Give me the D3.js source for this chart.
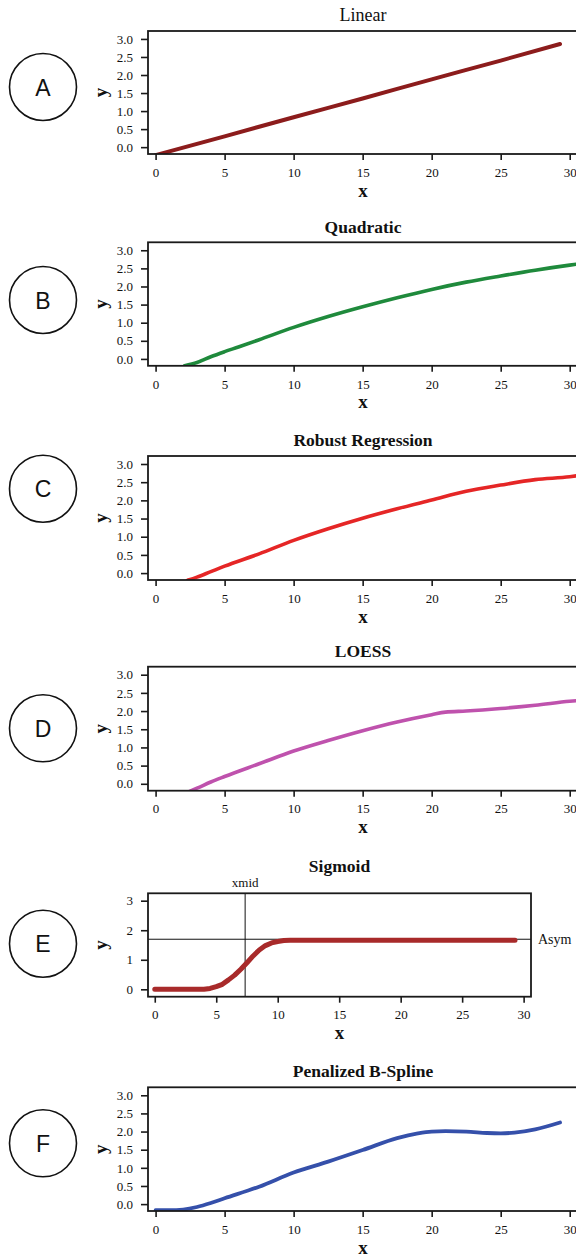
<!DOCTYPE html>
<html>
<head>
<meta charset="utf-8">
<script src="https://cdn.jsdelivr.net/npm/d3@7"></script>
<style>
  html, body { margin: 0; padding: 0; background: #fff; }
  svg { display: block; }
</style>
</head>
<body>
<svg id="chart" width="576" height="1259"></svg>
<script>
// ---------- data ----------
const xTicks = [0, 5, 10, 15, 20, 25, 30];
const yTicks = [0, 0.5, 1, 1.5, 2, 2.5, 3];
const yTicksSigmoid = [0, 1, 2, 3];

const panelTitles = ["Linear", "Quadratic", "Robust Regression", "LOESS", "Sigmoid", "Penalized B-Spline"];
const panelLetters = ["A", "B", "C", "D", "E", "F"];

const linearX = [0, 5, 10, 15, 20, 25, 29.3];
const linearY = [-0.22, 0.30, 0.83, 1.35, 1.88, 2.40, 2.86];

const quadX = [2.1, 3, 4, 5, 6, 7.5, 10, 12.5, 15, 17.5, 20, 22.5, 25, 27.5, 30, 30.6];
const quadY = [-0.19, -0.10, 0.06, 0.20, 0.33, 0.53, 0.87, 1.17, 1.44, 1.69, 1.92, 2.12, 2.29, 2.45, 2.59, 2.62];

const robustX = [2.3, 3, 4, 5, 7.5, 10, 12.5, 15, 17.5, 20, 22.5, 25, 27.5, 30, 30.6];
const robustY = [-0.20, -0.11, 0.04, 0.19, 0.53, 0.90, 1.22, 1.51, 1.77, 2.01, 2.25, 2.42, 2.57, 2.65, 2.68];

const loessX = [2.5, 3, 4, 5, 7.5, 10, 12.5, 15, 17.5, 20, 21, 22.5, 25, 27.5, 30, 30.6];
const loessY = [-0.20, -0.12, 0.05, 0.20, 0.55, 0.90, 1.19, 1.46, 1.70, 1.90, 1.97, 2.00, 2.07, 2.16, 2.27, 2.29];

const sigmoidX = [0, 4, 4.5, 5, 5.5, 6, 6.5, 7, 7.5, 8, 8.5, 9, 9.5, 10, 10.5, 11, 29.3];
const sigmoidY = [0, 0, 0.03, 0.09, 0.17, 0.32, 0.48, 0.68, 0.90, 1.13, 1.33, 1.48, 1.57, 1.62, 1.65, 1.66, 1.66];
const sigmoidXmid = 7.35;
const sigmoidAsym = 1.695;

const splineX = [0, 1, 2, 3, 4, 5, 7.5, 10, 12.5, 15, 17.5, 19, 20, 21, 22.5, 24, 25, 26, 27.5, 29.3];
const splineY = [-0.17, -0.17, -0.15, -0.08, 0.03, 0.16, 0.48, 0.87, 1.17, 1.49, 1.82, 1.95, 2.00, 2.01, 2.00, 1.96, 1.95, 1.97, 2.06, 2.25];

// ---------- layout ----------
const svg = d3.select("#chart");
const serif = "'Liberation Serif', 'Times New Roman', serif";
const sans = "'Liberation Sans', Arial, sans-serif";

const panels = [
  { top: 31,    h: 123,   w: 430, xs: linearX,  ys: linearY,  color: "#8c1c1c", sw: 4,   yt: yTicks, yd: [-0.19, 3.22], cy: 87,   bold: false, titleOff: 10 },
  { top: 242.3, h: 123.5, w: 430, xs: quadX,    ys: quadY,    color: "#1f8a3c", sw: 3.6, yt: yTicks, yd: [-0.19, 3.22], cy: 300,  bold: true,  titleOff: 9 },
  { top: 456,   h: 124,   w: 430, xs: robustX,  ys: robustY,  color: "#e52626", sw: 3.6, yt: yTicks, yd: [-0.19, 3.22], cy: 488.7,bold: true,  titleOff: 10 },
  { top: 666.7, h: 124,   w: 430, xs: loessX,   ys: loessY,   color: "#bf52ad", sw: 3.6, yt: yTicks, yd: [-0.19, 3.22], cy: 728.3,bold: true,  titleOff: 10 },
  { top: 893.3, h: 103.4, w: 383, xs: sigmoidX, ys: sigmoidY, color: "#a82a2a", sw: 5,   yt: yTicksSigmoid, yd: [-0.25, 3.25], cy: 943.7, bold: true, titleOff: 21, sigmoid: true },
  { top: 1087.3,h: 123.7, w: 430, xs: splineX,  ys: splineY,  color: "#3550aa", sw: 3.8, yt: yTicks, yd: [-0.19, 3.22], cy: 1143.3,bold: true, titleOff: 10 }
];
const left = 148;
const xDomain = [-0.55, 30.6];

panels.forEach((p, i) => {
  const g = svg.append("g");
  const x = d3.scaleLinear().domain(xDomain).range([left, left + p.w]);
  const y = d3.scaleLinear().domain(p.yd).range([p.top + p.h, p.top]);

  // clip
  const clipId = "clip" + i;
  svg.append("clipPath").attr("id", clipId)
    .append("rect").attr("x", left).attr("y", p.top).attr("width", p.w).attr("height", p.h);

  // reference lines for sigmoid
  if (p.sigmoid) {
    g.append("line")
      .attr("x1", x(sigmoidXmid)).attr("x2", x(sigmoidXmid))
      .attr("y1", p.top).attr("y2", p.top + p.h)
      .attr("stroke", "#111").attr("stroke-width", 1);
    g.append("line")
      .attr("x1", left).attr("x2", left + p.w)
      .attr("y1", y(sigmoidAsym)).attr("y2", y(sigmoidAsym))
      .attr("stroke", "#111").attr("stroke-width", 1);
    g.append("text").text("xmid")
      .attr("x", x(sigmoidXmid)).attr("y", p.top - 6)
      .attr("text-anchor", "middle")
      .attr("font-family", serif).attr("font-size", 13).attr("fill", "#111");
    g.append("text").text("Asym")
      .attr("x", left + p.w + 7).attr("y", y(sigmoidAsym) + 4.5)
      .attr("font-family", serif).attr("font-size", 14).attr("fill", "#111");
  }

  // curve
  const pts = p.xs.map((d, k) => [d, p.ys[k]]);
  g.append("path")
    .attr("clip-path", `url(#${clipId})`)
    .attr("d", d3.line().x(d => x(d[0])).y(d => y(d[1]))
      .curve(p.sigmoid ? d3.curveLinear : d3.curveMonotoneX)(pts))
    .attr("fill", "none")
    .attr("stroke", p.color)
    .attr("stroke-width", p.sw)
    .attr("stroke-linecap", "round")
    .attr("stroke-linejoin", "round");

  // box
  g.append("rect")
    .attr("x", left).attr("y", p.top).attr("width", p.w).attr("height", p.h)
    .attr("fill", "none").attr("stroke", "#1a1a1a").attr("stroke-width", 1.8);

  // axes
  const ya = g.append("g").attr("transform", `translate(${left},0)`)
    .call(d3.axisLeft(y).tickValues(p.yt)
      .tickFormat(p.sigmoid ? d3.format("d") : d3.format(".1f"))
      .tickSize(7).tickPadding(8));
  const xa = g.append("g").attr("transform", `translate(0,${p.top + p.h})`)
    .call(d3.axisBottom(x).tickValues(xTicks).tickFormat(d3.format("d"))
      .tickSize(6).tickPadding(7.5));
  [ya, xa].forEach(a => {
    a.select(".domain").remove();
    a.selectAll(".tick line").attr("stroke", "#1a1a1a").attr("stroke-width", 1.6);
    a.selectAll(".tick text").attr("font-family", serif).attr("font-size", 13).attr("fill", "#111");
  });

  // title
  g.append("text").text(panelTitles[i])
    .attr("x", left + p.w / 2).attr("y", p.top - p.titleOff)
    .attr("text-anchor", "middle")
    .attr("font-family", serif).attr("font-size", p.bold ? 17.5 : 18)
    .attr("font-weight", p.bold ? "bold" : "normal").attr("fill", "#111");

  // axis labels
  g.append("text").text("x")
    .attr("x", left + p.w / 2).attr("y", p.top + p.h + 42.5)
    .attr("text-anchor", "middle")
    .attr("font-family", serif).attr("font-size", 19).attr("font-weight", "bold").attr("fill", "#111");
  g.append("text").text("y")
    .attr("transform", `translate(${107},${p.top + p.h / 2}) rotate(-90)`)
    .attr("text-anchor", "middle")
    .attr("font-family", serif).attr("font-size", 19).attr("font-weight", "bold").attr("fill", "#111");

  // letter circle
  g.append("circle").attr("cx", 43).attr("cy", p.cy).attr("r", 33.5)
    .attr("fill", "none").attr("stroke", "#111").attr("stroke-width", 1.6);
  g.append("text").text(panelLetters[i])
    .attr("x", 43).attr("y", p.cy + 8.5)
    .attr("text-anchor", "middle")
    .attr("font-family", sans).attr("font-size", 23).attr("fill", "#111");
});
</script>
</body>
</html>
